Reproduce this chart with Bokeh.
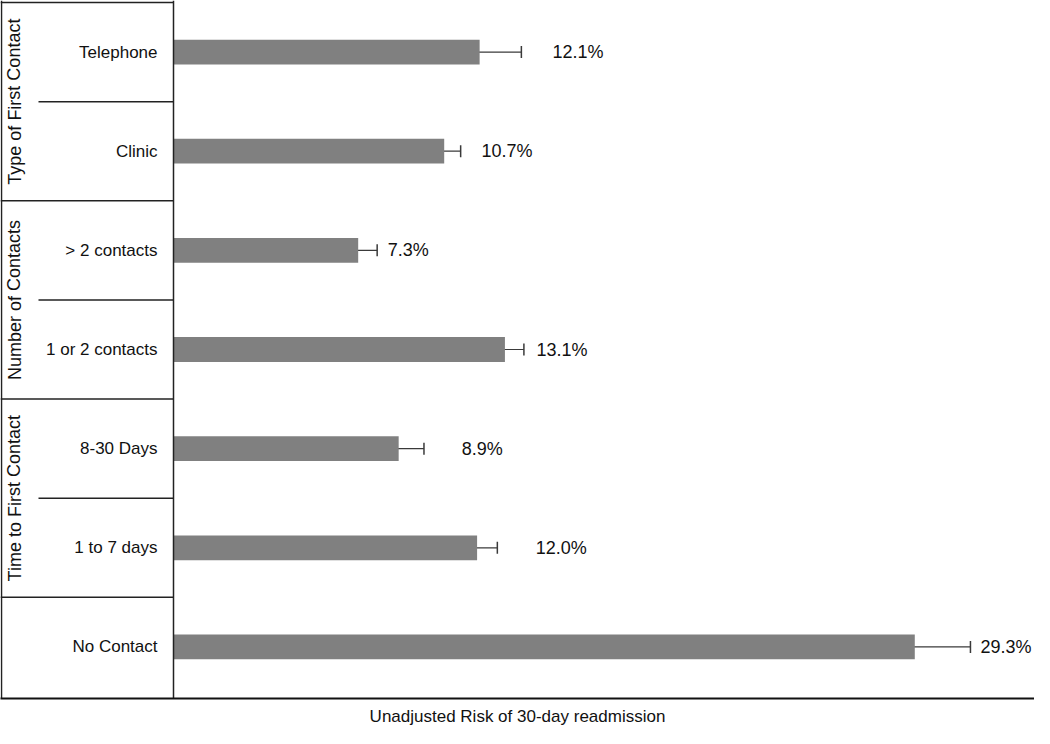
from bokeh.plotting import figure
from bokeh.models import (ColumnDataSource, FactorRange, Range1d, Whisker, TeeHead,
                          FixedTicker)
from bokeh.core.properties import value
from bokeh.embed import file_html
from bokeh.resources import INLINE

# ---- data ----
categories = ["Telephone", "Clinic", "> 2 contacts", "1 or 2 contacts",
              "8-30 Days", "1 to 7 days", "No Contact"]
risk = [12.1, 10.7, 7.3, 13.1, 8.9, 12.0, 29.3]
ci_low = [10.45, 10.0, 6.4, 12.25, 7.95, 11.2, 27.05]
ci_high = [13.75, 11.35, 8.05, 13.85, 9.9, 12.8, 31.5]
value_labels = ["12.1%", "10.7%", "7.3%", "13.1%", "8.9%", "12.0%", "29.3%"]
label_x = [14.98, 12.17, 8.47, 14.35, 11.39, 14.32, 31.9]
groups = ["Type of First Contact", "Number of Contacts", "Time to First Contact"]
group_center = [6, 4, 2]

FONT = "Liberation Sans"
W, H = 1034, 728
PANEL = 173          # px of left label panel
PPU = 25.3           # px per percent
x_start = -PANEL / PPU
x_end = (W - PANEL) / PPU

def px(d):
    """screen px offset to data units"""
    return d / PPU

p = figure(width=W, height=H, output_backend="svg", toolbar_location=None,
           x_range=Range1d(x_start, x_end),
           y_range=FactorRange(factors=list(reversed(categories)),
                               range_padding=0.02, range_padding_units="absolute"),
           min_border_left=0, min_border_right=0, min_border_top=0, min_border_bottom=0)
p.outline_line_color = None
p.xgrid.visible = False
p.ygrid.visible = False
p.yaxis.visible = False
p.background_fill_color = "white"

xa = p.xaxis[0]
xa.ticker = FixedTicker(ticks=[])
xa.major_tick_line_color = None
xa.minor_tick_line_color = None
xa.major_label_text_font_size = "0px"
xa.axis_line_color = "#111111"
xa.axis_line_width = 2
xa.axis_label = "Unadjusted Risk of 30-day readmission"
xa.axis_label_text_font = FONT
xa.axis_label_text_font_size = "17px"
xa.axis_label_text_font_style = "normal"
xa.axis_label_text_color = "#111111"
xa.axis_label_standoff = 8

src = ColumnDataSource(dict(cat=categories, risk=risk, lo=ci_low, hi=ci_high,
                            lab=value_labels, lx=label_x))

p.hbar(y="cat", left=0, right="risk", height=0.25, source=src,
       fill_color="#808080", line_color=None)

wh = Whisker(base="cat", lower="lo", upper="hi", dimension="width", source=src,
             line_color="#3a3a3a", line_width=1.2,
             upper_head=TeeHead(size=12, line_color="#3a3a3a", line_width=1.5),
             lower_head=TeeHead(size=12, line_color="#3a3a3a", line_width=1.5))
p.add_layout(wh)

p.text(x="lx", y="cat", text="lab", source=src, text_font=value(FONT),
       text_font_size="18px", text_baseline="middle", text_align="left",
       text_color="#111111")

# ---- left panel ----
line_col = "#222222"
p.text(x=[px(-16)] * len(categories), y=categories, text=categories,
       text_font=value(FONT), text_font_size="17px", text_baseline="middle",
       text_align="right", text_color="#111111")
p.text(x=[x_start + px(14)] * len(groups), y=group_center, text=groups,
       angle=1.5708, text_font=value(FONT), text_font_size="18px",
       text_baseline="middle", text_align="center", text_color="#111111")
full_y = [1, 3, 5, 7]
p.segment(x0=[x_start] * 4, y0=full_y, x1=[0] * 4, y1=full_y,
          line_color=line_col, line_width=1.5)
part_y = [2, 4, 6]
p.segment(x0=[x_start + px(38)] * 3, y0=part_y, x1=[0] * 3, y1=part_y,
          line_color=line_col, line_width=1.5)
p.segment(x0=[x_start + px(1), 0], y0=[-0.02, -0.02], x1=[x_start + px(1), 0],
          y1=[7.02, 7.02], line_color=line_col, line_width=1.5)

open("out.html", "w").write(file_html(p, INLINE))
